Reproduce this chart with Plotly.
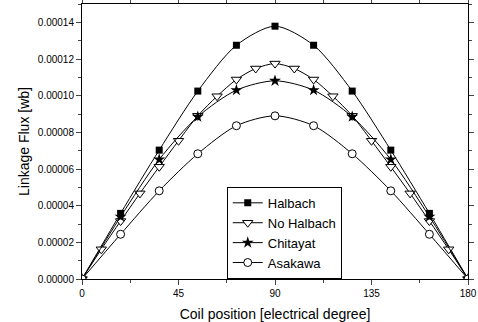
import plotly.graph_objects as go

x18 = [0, 18, 36, 54, 72, 90, 108, 126, 144, 162, 180]
x9 = [0, 9, 18, 27, 36, 45, 54, 63, 72, 81, 90, 99, 108, 117, 126, 135, 144, 153, 162, 171, 180]

halbach = [0, 3.58e-5, 7.03e-5, 1.025e-4, 1.275e-4, 1.379e-4, 1.275e-4, 1.025e-4, 7.03e-5, 3.58e-5, 0]
no_halbach = [0, 1.62e-5, 3.16e-5, 4.67e-5, 6.12e-5, 7.54e-5, 8.9e-5, 9.97e-5, 1.088e-4, 1.148e-4, 1.175e-4,
              1.148e-4, 1.088e-4, 9.97e-5, 8.9e-5, 7.54e-5, 6.12e-5, 4.67e-5, 3.16e-5, 1.62e-5, 0]
chitayat = [0, 3.4e-5, 6.52e-5, 8.85e-5, 1.03e-4, 1.081e-4, 1.03e-4, 8.85e-5, 6.52e-5, 3.4e-5, 0]
asakawa = [0, 2.44e-5, 4.81e-5, 6.83e-5, 8.36e-5, 8.9e-5, 8.36e-5, 6.83e-5, 4.81e-5, 2.44e-5, 0]

ytick_vals = [0, 0.00002, 0.00004, 0.00006, 0.00008, 0.0001, 0.00012, 0.00014]
ytick_text = ["0.00000", "0.00002", "0.00004", "0.00006", "0.00008", "0.00010", "0.00012", "0.00014"]
xtick_vals = [0, 45, 90, 135, 180]

fig = go.Figure()
common_line = dict(color="black", width=1, shape="spline", smoothing=0.8)
fig.add_trace(go.Scatter(x=x18, y=halbach, name="Halbach", mode="lines+markers",
                         line=common_line,
                         marker=dict(symbol="square", size=7, color="black")))
fig.add_trace(go.Scatter(x=x9, y=no_halbach, name="No Halbach", mode="lines+markers",
                         line=common_line,
                         marker=dict(symbol="triangle-down", size=9, color="white",
                                     line=dict(color="black", width=1))))
fig.add_trace(go.Scatter(x=x18, y=chitayat, name="Chitayat", mode="lines+markers",
                         line=common_line,
                         marker=dict(symbol="star", size=9, color="black")))
fig.add_trace(go.Scatter(x=x18, y=asakawa, name="Asakawa", mode="lines+markers",
                         line=common_line,
                         marker=dict(symbol="circle", size=8, color="white",
                                     line=dict(color="black", width=1))))

fig.update_layout(
    width=478, height=322,
    margin=dict(l=82, r=10, t=4, b=43),
    paper_bgcolor="white", plot_bgcolor="white",
    font=dict(family="Liberation Sans, Arial", color="black"),
    legend=dict(x=0.375, y=0.335, xanchor="left", yanchor="top",
                bgcolor="white", bordercolor="black", borderwidth=1,
                font=dict(size=13), tracegroupgap=0, itemwidth=30),
    showlegend=True,
)
fig.update_xaxes(range=[0, 180], tickvals=xtick_vals, ticks="outside", ticklen=5,
                 showline=True, linecolor="black", linewidth=1, mirror="ticks",
                 showgrid=False, zeroline=False, tickfont=dict(size=10), automargin=False,
                 minor=dict(tickvals=[22.5, 67.5, 112.5, 157.5], ticks="outside", ticklen=3),
                 title=dict(text="Coil position [electrical degree]", font=dict(size=14)))
fig.update_yaxes(range=[0, 0.00015], tickvals=ytick_vals, ticktext=ytick_text, ticks="outside", ticklen=5,
                 showline=True, linecolor="black", linewidth=1, mirror="ticks",
                 showgrid=False, zeroline=False, tickfont=dict(size=10), automargin=True,
                 minor=dict(dtick=0.00001, ticks="outside", ticklen=3),
                 title=dict(text="Linkage Flux [wb]", font=dict(size=14), standoff=4))

fig.write_html("out.html", config={"displayModeBar": False},
               post_script="document.body.style.margin='0';document.body.style.overflow='hidden';")
